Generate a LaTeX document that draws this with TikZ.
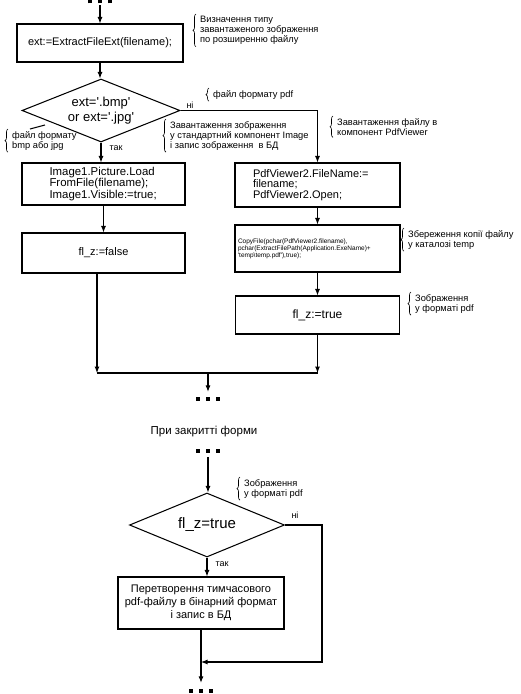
\documentclass[tikz,border=0pt]{standalone}
\usepackage{fontspec}
\setmainfont{Liberation Sans}
\usepackage{tikz}
\usetikzlibrary{arrows.meta,shapes.geometric,decorations.pathreplacing}

\newcommand{\blockdots}{\rule{3.8pt}{3.8pt}\hspace{6.4pt}\rule{3.8pt}{3.8pt}\hspace{6.4pt}\rule{3.8pt}{3.8pt}}
\newcommand{\sq}{\textquotesingle}

\begin{document}
\begin{tikzpicture}[
  x=1pt,
  y=-1pt,
  >={Latex[length=6.5pt,width=5pt]},
  flow/.style={->, line width=1.05pt},
  link/.style={line width=1.05pt},
  block/.style={draw, line width=1.05pt, inner sep=0pt, align=center},
  decision/.style={diamond, draw, line width=1.05pt, inner sep=0pt, aspect=2.5, align=center},
  note/.style={anchor=north west, inner sep=0pt, align=left, font=\fontsize{9.3}{10}\selectfont},
  tag/.style={inner sep=0pt, font=\fontsize{9}{10}\selectfont},
  curly/.style={decorate, decoration={brace, amplitude=3pt}, line width=0.6pt},
  dotrow/.style={inner sep=0pt}
]
\useasboundingbox (0,0) rectangle (521,694);

\node[dotrow] (dotsA) at (100,1.5) {\blockdots};
\node[block, minimum width=166pt, minimum height=38pt, font=\fontsize{11}{13}\selectfont]
  (ext) at (100,43) {ext:=ExtractFileExt(filename);};
\node[decision, minimum width=158pt, minimum height=63pt, font=\fontsize{13}{15}\selectfont]
  (isimg) at (101,110.5) {ext=\sq.bmp\sq\\or ext=\sq.jpg\sq};
\node[block, minimum width=163pt, minimum height=42pt, text width=108pt, align=left,
  font=\fontsize{11.4}{10.5}\selectfont]
  (loadimg) at (103.5,184) {Image1.Picture.Load\\FromFile(filename);\\Image1.Visible:=true;};
\node[block, minimum width=163pt, minimum height=40pt, font=\fontsize{11}{13}\selectfont]
  (flfalse) at (103.5,253) {fl\_z:=false};
\node[block, minimum width=165pt, minimum height=44pt, text width=129pt, align=left,
  font=\fontsize{11}{10.5}\selectfont]
  (loadpdf) at (317.5,185) {PdfViewer2.FileName:=\\filename;\\PdfViewer2.Open;};
\node[block, minimum width=165pt, minimum height=47pt, text width=159pt, align=left,
  font=\fontsize{6.5}{7}\selectfont]
  (copyfile) at (317.5,248.5) {CopyFile(pchar(PdfViewer2.filename),\\
  pchar(ExtractFilePath(Application.ExeName)+\\\sq temp\textbackslash temp.pdf\sq),true);};
\node[block, minimum width=164pt, minimum height=38pt, font=\fontsize{12}{14}\selectfont]
  (fltrue) at (317.5,315) {fl\_z:=true};

\coordinate (mL) at (97,373);
\coordinate (mR) at (317.5,373);
\coordinate (mC) at (208,373);
\node[dotrow] (dotsB) at (208,399) {\blockdots};
\node[font=\fontsize{11.5}{13}\selectfont, inner sep=0pt] (onclose) at (204,432) {При закритті форми};
\node[dotrow] (dotsC) at (208,451) {\blockdots};
\node[decision, minimum width=155pt, minimum height=64pt, font=\fontsize{15}{17}\selectfont]
  (ispdf) at (207,525) {fl\_z=true};
\node[block, minimum width=166pt, minimum height=52pt, font=\fontsize{11}{13}\selectfont]
  (tobinary) at (201,603) {Перетворення тимчасового\\pdf-файлу в бінарний формат\\і запис в БД};
\node[dotrow] (dotsD) at (201,691) {\blockdots};
\coordinate (loopR) at (322,662);
\coordinate (loopL) at (201,662);

\node[tag] (no1) at (190,105) {ні};
\node[tag] (yes1) at (116,148) {так};
\node[tag] (no2) at (295,515) {ні};
\node[tag] (yes2) at (222,564) {так};

\node[note] (n1) at (200,16) {Визначення типу\\завантаженого зображення\\по розширенню файлу};
\node[note] (n2) at (213,90) {файл формату pdf};
\node[note] (n3) at (12,131) {файл формату\\bmp або jpg};
\node[note] (n4) at (170,121) {Завантаження зображення\\у стандартний компонент Image\\і запис зображення \ в БД};
\node[note] (n5) at (337,118) {Завантаження файлу в\\компонент PdfViewer};
\node[note] (n6) at (408,230) {Збереження копії файлу\\у каталозі temp};
\node[note] (n7) at (415,294) {Зображення\\у форматі pdf};
\node[note] (n8) at (244,479) {Зображення\\у форматі pdf};
\coordinate (tickA) at (30,129);
\coordinate (tickB) at (45,125);

\foreach \n in {n1,n2,n3,n4,n5,n6,n7,n8}
  \draw[curly] ([xshift=-4pt,yshift=-2pt]\n.south west) -- ([xshift=-4pt,yshift=2pt]\n.north west);

\draw[flow] ([yshift=-1.5pt]dotsA.south) -- (ext.north);
\draw[flow] (ext.south) -- (ext.south |- isimg.north);
\draw[flow] (isimg.south) -- (isimg.south |- loadimg.north);
\draw[flow] (isimg.east) -| (loadpdf.north);
\draw[flow] (loadimg) -- (flfalse);
\draw[flow] (loadpdf) -- (copyfile);
\draw[flow] (copyfile) -- (fltrue);
\draw[flow] (flfalse.south -| mL) -- (mL);
\draw[flow] (fltrue.south) -- (mR);
\draw[link] (mL) -- (mR);
\draw[flow] (mC) -- ([yshift=5pt]dotsB.north);
\draw[flow] ([yshift=-4pt]dotsC.south) -- (dotsC.south |- ispdf.north);
\draw[flow] (ispdf.south) -- (ispdf.south |- tobinary.north);
\draw[flow] (ispdf.east) -| (loopR) -- (loopL);
\draw[flow] (tobinary.south) -- ([yshift=6pt]dotsD.north);
\draw[link] (tickA) -- (tickB);

\end{tikzpicture}
\end{document}
